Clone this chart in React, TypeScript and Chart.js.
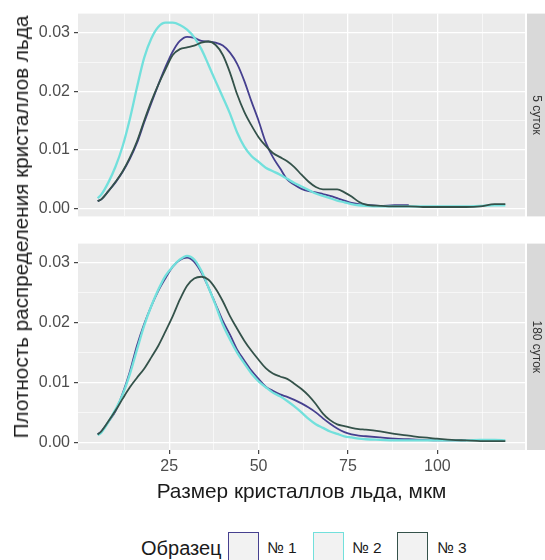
import React, { useEffect, useRef } from 'react';
import { Chart, registerables } from 'chart.js';

Chart.register(...registerables);

// ---------- data ----------
const X_GRID = [5, 6, 8, 10, 12, 14, 16, 18, 20, 22, 24, 26, 28, 30, 32, 34, 36, 38, 40, 42, 44, 46, 48, 50, 52, 54, 56, 58, 60, 62, 64, 66, 68, 70, 72, 74, 76, 78, 80, 84, 88, 92, 96, 100, 104, 108, 112, 116, 119];

// panel "5 суток"
const TOP_N1 = [0.0013, 0.0016, 0.0030, 0.0045, 0.0063, 0.0085, 0.0112, 0.0147, 0.0180, 0.0212, 0.0242, 0.0268, 0.0286, 0.0293, 0.0291, 0.0286, 0.0285, 0.0283, 0.0278, 0.0266, 0.0247, 0.0218, 0.0183, 0.0150, 0.0113, 0.0088, 0.0069, 0.0050, 0.0041, 0.0034, 0.0030, 0.0028, 0.0025, 0.0022, 0.0018, 0.0014, 0.0010, 0.0008, 0.0007, 0.0005, 0.0006, 0.0006, null, null, null, null, null, null, null];
const TOP_N2 = [0.0018, 0.0024, 0.0045, 0.0072, 0.0107, 0.0153, 0.0207, 0.0257, 0.0290, 0.0310, 0.0317, 0.0317, 0.0313, 0.0305, 0.0292, 0.0272, 0.0245, 0.0217, 0.0190, 0.0162, 0.0130, 0.0106, 0.0090, 0.0080, 0.0070, 0.0064, 0.0058, 0.0051, 0.0044, 0.0038, 0.0032, 0.0026, 0.0022, 0.0018, 0.0014, 0.0011, 0.0008, 0.0006, 0.0005, 0.0004, 0.0004, 0.0004, 0.0004, 0.0004, 0.0004, 0.0004, 0.0005, 0.0006, 0.0006];
const TOP_N3 = [0.0013, 0.0016, 0.0030, 0.0046, 0.0064, 0.0087, 0.0115, 0.0150, 0.0183, 0.0212, 0.0238, 0.0262, 0.0272, 0.0275, 0.0278, 0.0283, 0.0285, 0.0279, 0.0262, 0.0232, 0.0195, 0.0165, 0.0142, 0.0122, 0.0107, 0.0095, 0.0088, 0.0081, 0.0071, 0.0058, 0.0046, 0.0037, 0.0033, 0.0033, 0.0033, 0.0028, 0.0021, 0.0012, 0.0007, 0.0005, 0.0004, 0.0004, 0.0003, 0.0003, 0.0003, 0.0003, 0.0004, 0.0008, 0.0008];

// panel "180 суток"
const BOT_N1 = [0.0013, 0.0018, 0.0034, 0.0052, 0.0082, 0.0118, 0.0162, 0.0198, 0.0228, 0.0254, 0.0275, 0.0294, 0.0305, 0.0309, 0.0302, 0.0284, 0.0259, 0.0231, 0.0203, 0.0180, 0.0155, 0.0137, 0.0120, 0.0106, 0.0093, 0.0086, 0.0080, 0.0076, 0.0071, 0.0065, 0.0058, 0.0050, 0.0040, 0.0031, 0.0023, 0.0017, 0.0013, 0.0011, 0.0010, 0.0008, 0.0006, 0.0005, 0.0004, 0.0003, 0.0003, 0.0003, null, null, null];
const BOT_N2 = [0.0012, 0.0016, 0.0034, 0.0055, 0.0080, 0.0114, 0.0155, 0.0195, 0.0228, 0.0256, 0.0279, 0.0294, 0.0306, 0.0312, 0.0306, 0.0287, 0.0259, 0.0229, 0.0197, 0.0172, 0.0150, 0.0132, 0.0115, 0.0102, 0.0092, 0.0083, 0.0077, 0.0069, 0.0060, 0.0050, 0.0039, 0.0030, 0.0024, 0.0018, 0.0014, 0.0010, 0.0008, 0.0006, 0.0005, 0.0004, 0.0003, 0.0003, 0.0003, 0.0003, 0.0003, 0.0003, 0.0004, 0.0004, 0.0003];
const BOT_N3 = [0.0013, 0.0018, 0.0035, 0.0053, 0.0073, 0.0092, 0.0108, 0.0123, 0.0142, 0.0162, 0.0186, 0.0211, 0.0239, 0.0262, 0.0274, 0.0277, 0.0272, 0.0257, 0.0236, 0.0211, 0.0190, 0.0170, 0.0153, 0.0138, 0.0124, 0.0115, 0.0110, 0.0106, 0.0098, 0.0089, 0.0078, 0.0064, 0.0048, 0.0037, 0.0030, 0.0027, 0.0024, 0.0022, 0.0021, 0.0018, 0.0014, 0.0011, 0.0008, 0.0006, 0.0004, 0.0003, 0.0002, 0.0002, 0.0002];

const SERIES_NAMES = ['№ 1', '№ 2', '№ 3'];
const SERIES_COLORS = ['#46408F', '#72E0DC', '#34524A'];
const SERIES_WIDTHS = [1.8, 2.3, 1.8];
const PANEL_LABELS = ['5 суток', '180 суток'];
const LEGEND_TITLE = 'Образец';
const X_TITLE = 'Размер кристаллов льда, мкм';
const Y_TITLE = 'Плотность распределения кристаллов льда';

const X_MAJOR = [25, 50, 75, 100];
const X_MINOR = [12.5, 37.5, 62.5, 87.5, 112.5];
const Y_MAJOR = [0, 0.01, 0.02, 0.03];
const Y_MINOR = [0.005, 0.015, 0.025];
const X_RANGE = [-0.5, 124.5];
const Y_RANGE = [-0.0013, 0.03325];

const FONT = '"Liberation Sans", Arial, sans-serif';

const isMajor = (list: number[], v: number) => list.some((m) => Math.abs(m - v) < 1e-9);

const facetPlugin = {
  id: 'facet',
  beforeDraw(chart: any) {
    const { ctx, chartArea } = chart;
    ctx.save();
    ctx.fillStyle = '#EBEBEB';
    ctx.fillRect(chartArea.left, chartArea.top, chartArea.right - chartArea.left, chartArea.bottom - chartArea.top);
    ctx.restore();
  },
  afterDraw(chart: any, _args: any, opts: any) {
    const { ctx, chartArea } = chart;
    const x0 = chartArea.right + 2;
    const w = chart.width - x0;
    ctx.save();
    ctx.fillStyle = '#D9D9D9';
    ctx.fillRect(x0, chartArea.top, w, chartArea.bottom - chartArea.top);
    ctx.translate(x0 + w / 2, (chartArea.top + chartArea.bottom) / 2);
    ctx.rotate(Math.PI / 2);
    ctx.fillStyle = '#333333';
    ctx.font = `12px ${FONT}`;
    ctx.textAlign = 'center';
    ctx.textBaseline = 'middle';
    ctx.fillText(opts.label, 0, 0);
    ctx.restore();
  },
};

function makeChart(canvas: HTMLCanvasElement, series: (number | null)[][], label: string, bottom: boolean, padTop: number, padBottom: number, xHeight: number) {
  const datasets = series.map((vals, i) => ({
    label: SERIES_NAMES[i],
    data: X_GRID.map((x, j) => ({ x, y: vals[j] })),
    borderColor: SERIES_COLORS[i],
    backgroundColor: SERIES_COLORS[i],
    borderWidth: SERIES_WIDTHS[i],
    pointRadius: 0,
    fill: false,
    tension: 0.4,
    cubicInterpolationMode: 'monotone' as const,
    spanGaps: false,
    order: 3 - i,
  }));
  return new Chart(canvas, {
    type: 'line',
    data: { datasets },
    plugins: [facetPlugin],
    options: {
      animation: false,
      responsive: false,
      events: [],
      layout: { padding: { left: 0, right: 20, top: padTop, bottom: padBottom } },
      plugins: {
        legend: { display: false },
        tooltip: { enabled: false },
        facet: { label },
      } as any,
      scales: {
        x: {
          type: 'linear',
          min: X_RANGE[0],
          max: X_RANGE[1],
          afterBuildTicks: (s: any) => {
            s.ticks = [...X_MINOR, ...X_MAJOR].sort((a, b) => a - b).map((v) => ({ value: v }));
          },
          afterFit: (s: any) => {
            s.height = xHeight;
          },
          border: { display: false },
          grid: {
            color: '#FFFFFF',
            lineWidth: (c: any) => (isMajor(X_MAJOR, c.tick.value) ? 1.3 : 0.6),
            drawTicks: bottom,
            tickLength: 4,
            tickWidth: 1.1,
            tickColor: (c: any) => (isMajor(X_MAJOR, c.tick.value) ? '#333333' : 'rgba(0,0,0,0)'),
          },
          ticks: {
            display: bottom,
            autoSkip: false,
            maxRotation: 0,
            padding: 3,
            color: '#4D4D4D',
            font: { family: FONT, size: 16 },
            callback: (v: any) => (isMajor(X_MAJOR, Number(v)) ? String(v) : ''),
          },
          title: {
            display: bottom,
            text: X_TITLE,
            color: '#1A1A1A',
            font: { family: FONT, size: 20.8 },
            padding: { top: 0, bottom: 5 },
          },
        },
        y: {
          type: 'linear',
          min: Y_RANGE[0],
          max: Y_RANGE[1],
          afterBuildTicks: (s: any) => {
            s.ticks = [...Y_MAJOR, ...Y_MINOR].sort((a, b) => a - b).map((v) => ({ value: v }));
          },
          afterFit: (s: any) => {
            s.width = 78;
          },
          border: { display: false },
          grid: {
            color: '#FFFFFF',
            lineWidth: (c: any) => (isMajor(Y_MAJOR, c.tick.value) ? 1.3 : 0.6),
            tickLength: 4,
            tickWidth: 1.1,
            tickColor: (c: any) => (isMajor(Y_MAJOR, c.tick.value) ? '#333333' : 'rgba(0,0,0,0)'),
          },
          ticks: {
            autoSkip: false,
            padding: 4,
            color: '#4D4D4D',
            font: { family: FONT, size: 16 },
            callback: (v: any) => (isMajor(Y_MAJOR, Number(v)) ? Number(v).toFixed(2) : ''),
          },
        },
      },
    } as any,
  });
}

export default function App() {
  const topRef = useRef<HTMLCanvasElement>(null);
  const botRef = useRef<HTMLCanvasElement>(null);

  useEffect(() => {
    const c1 = makeChart(topRef.current!, [TOP_N1, TOP_N2, TOP_N3], PANEL_LABELS[0], false, 12, 5, 0);
    const c2 = makeChart(botRef.current!, [BOT_N1, BOT_N2, BOT_N3], PANEL_LABELS[1], true, 5, 0, 60);
    return () => {
      c1.destroy();
      c2.destroy();
    };
  }, []);

  const boxLefts = [228, 313, 397];
  const labelLefts = [267, 352, 437];

  return (
    <div style={{ position: 'absolute', left: 0, top: 0, width: 545, height: 560, overflow: 'hidden', background: '#FFFFFF', fontFamily: FONT }}>
      <canvas ref={topRef} width={545} height={230} style={{ position: 'absolute', left: 0, top: 0, width: 545, height: 230 }} />
      <canvas ref={botRef} width={545} height={280} style={{ position: 'absolute', left: 0, top: 230, width: 545, height: 280 }} />
      <div
        style={{
          position: 'absolute',
          left: 21,
          top: 227,
          transform: 'translate(-50%, -50%) rotate(-90deg)',
          whiteSpace: 'nowrap',
          fontSize: 20.7,
          lineHeight: '24px',
          color: '#1A1A1A',
        }}
      >
        {Y_TITLE}
      </div>
      <div style={{ position: 'absolute', left: 141, top: 548, transform: 'translateY(-50%)', fontSize: 20, lineHeight: '24px', color: '#1A1A1A', whiteSpace: 'nowrap' }}>
        {LEGEND_TITLE}
      </div>
      {SERIES_NAMES.map((n, i) => (
        <React.Fragment key={n}>
          <div
            style={{
              position: 'absolute',
              left: boxLefts[i],
              top: 532,
              width: 31,
              height: 31,
              boxSizing: 'border-box',
              border: `1.5px solid ${SERIES_COLORS[i]}`,
              background: '#F2F2F2',
            }}
          />
          <div style={{ position: 'absolute', left: labelLefts[i], top: 548, transform: 'translateY(-50%)', fontSize: 15.5, lineHeight: '18px', color: '#1A1A1A', whiteSpace: 'nowrap' }}>
            {n}
          </div>
        </React.Fragment>
      ))}
    </div>
  );
}
